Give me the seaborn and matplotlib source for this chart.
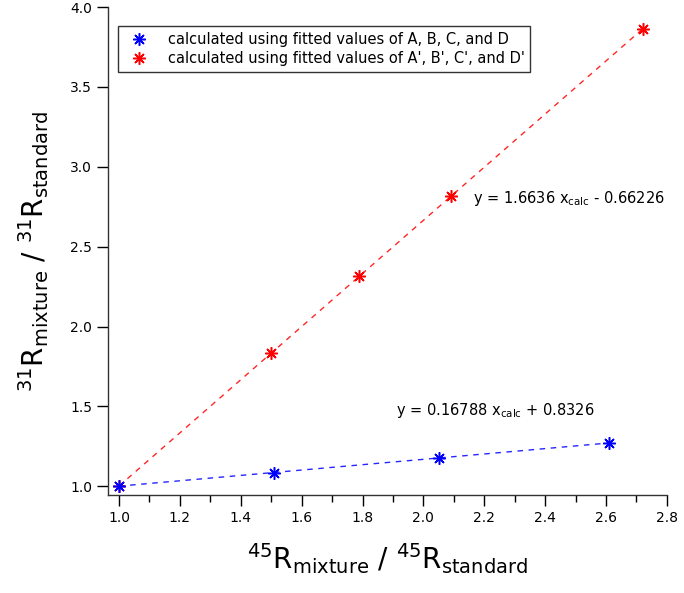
import matplotlib
matplotlib.use("Agg")
import matplotlib.pyplot as plt
import seaborn as sns
import pandas as pd
from matplotlib.ticker import MultipleLocator

# Data
x_blue = [1.0, 1.51, 2.05, 2.61]
y_blue = [1.0, 1.085, 1.175, 1.27]
x_red = [1.0, 1.50, 1.79, 2.09, 2.72]
y_red = [1.0, 1.833, 2.315, 2.815, 3.865]
label_blue = "calculated using fitted values of A, B, C, and D"
label_red = "calculated using fitted values of A', B', C', and D'"
fit_blue = (0.16788, 0.8326)
fit_red = (1.6636, -0.66226)

sns.set_style("ticks")
plt.rcParams['font.family'] = ['DejaVu Sans']
plt.rcParams['mathtext.default'] = 'regular'
plt.rcParams['text.color'] = 'black'

fig = plt.figure(figsize=(6.84, 5.93), dpi=100)
ax = fig.add_axes([0.158, 0.165, 0.817, 0.823])

df_b = pd.DataFrame({"x": x_blue, "y": y_blue})
df_r = pd.DataFrame({"x": x_red, "y": y_red})

# dashed fit lines
for xs, (m, b), c in [(x_red, fit_red, "red"), (x_blue, fit_blue, "blue")]:
    xl = [min(xs), max(xs)]
    yl = [m * v + b for v in xl]
    sns.lineplot(x=xl, y=yl, ax=ax, color=c, linestyle=(0, (4, 4)), linewidth=1.0,
                 alpha=0.85, legend=False)

ax.plot(df_r["x"], df_r["y"], linestyle="none", marker=(8, 2, 0), markersize=9,
        markeredgewidth=1.1, color="red", label=label_red, zorder=3)
ax.plot(df_b["x"], df_b["y"], linestyle="none", marker=(8, 2, 0), markersize=9,
        markeredgewidth=1.1, color="blue", label=label_blue, zorder=4)

ax.set_xlim(0.964, 2.8)
ax.set_ylim(0.944, 4.0)
ax.xaxis.set_major_locator(MultipleLocator(0.2))
ax.xaxis.set_minor_locator(MultipleLocator(0.1))
ax.yaxis.set_major_locator(MultipleLocator(0.5))
ax.tick_params(axis='both', which='major', direction='out', length=8, width=1,
               labelsize=10, colors='black')
ax.tick_params(axis='x', which='minor', direction='out', length=5, width=1, colors='black')
ax.xaxis.set_major_formatter(matplotlib.ticker.FormatStrFormatter('%.1f'))
ax.yaxis.set_major_formatter(matplotlib.ticker.FormatStrFormatter('%.1f'))
sns.despine(ax=ax)
for s in ["left", "bottom"]:
    ax.spines[s].set_color('#333333')
    ax.spines[s].set_linewidth(1.0)

ax.set_xlabel(r'$^{45}R_{mixture}$ / $^{45}R_{standard}$', fontsize=20, labelpad=12, color='black')
ax.set_ylabel(r'$^{31}R_{mixture}$ / $^{31}R_{standard}$', fontsize=20, labelpad=14, color='black')

ax.text(2.163, 2.80, r'y = 1.6636 $x_{calc}$ - 0.66226', fontsize=10.5, va='center', ha='left', color='black')
ax.text(1.91, 1.476, r'y = 0.16788 $x_{calc}$ + 0.8326', fontsize=10.5, va='center', ha='left', color='black')

handles, labels = ax.get_legend_handles_labels()
order = [labels.index(label_blue), labels.index(label_red)]
leg = ax.legend([handles[i] for i in order], [labels[i] for i in order],
                loc='upper left', bbox_to_anchor=(0.018, 0.961), fontsize=10.5,
                frameon=True, fancybox=False, edgecolor='black', borderpad=0.4,
                handletextpad=1.0, labelspacing=0.3, borderaxespad=0)
leg.get_frame().set_linewidth(1.0)
for t in leg.get_texts():
    t.set_color('black')

fig.savefig("out.png", dpi=100)
